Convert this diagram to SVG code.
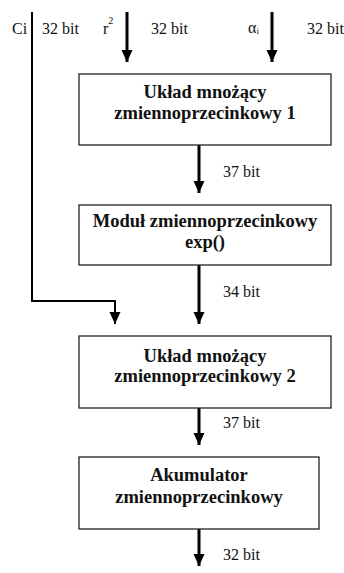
<svg xmlns="http://www.w3.org/2000/svg" width="344" height="573" viewBox="0 0 344 573">
<defs>
<style>
.box{fill:#fff;stroke:#222;stroke-width:1.3}
.t{font-weight:bold;fill:#111;text-anchor:middle}
.l{fill:#111}
.w{fill:none;stroke:#000;stroke-width:3}
.n{fill:none;stroke:#000;stroke-width:2}
</style>
<marker id="ah" markerUnits="userSpaceOnUse" markerWidth="14" markerHeight="14" viewBox="0 0 14 14" refX="12" refY="7" orient="auto">
<path d="M0,1.5 L12,7 L0,12.5 Z" fill="#000"/>
</marker>
</defs>
<rect width="344" height="573" fill="#fff"/>
<g id="connectors">
<path class="w" d="M127,12 V62" marker-end="url(#ah)"/>
<path class="w" d="M272,12 V62" marker-end="url(#ah)"/>
<path class="w" d="M199,145 V193" marker-end="url(#ah)"/>
<path class="w" d="M199,265 V324" marker-end="url(#ah)"/>
<path class="n" d="M32,12 V301 H115 V324" marker-end="url(#ah)"/>
<path class="w" d="M199,408 V445" marker-end="url(#ah)"/>
<path class="w" d="M199,529 V566" marker-end="url(#ah)"/>
</g>
<g id="labels">
<text class="l" style="font-family:'Liberation Serif',serif;font-size:16px" x="12" y="34">Ci</text>
<text class="l" style="font-family:'Liberation Serif',serif;font-size:16px" x="42" y="34">32 bit</text>
<text class="l" style="font-family:'Liberation Serif',serif;font-size:16px" x="103" y="34">r<tspan style="font-size:10px" dy="-10">2</tspan></text>
<text class="l" style="font-family:'Liberation Serif',serif;font-size:16px" x="151" y="34">32 bit</text>
<text class="l" style="font-family:'Liberation Serif',serif;font-size:16px" x="248" y="33">α<tspan style="font-size:9px" dy="1">i</tspan></text>
<text class="l" style="font-family:'Liberation Serif',serif;font-size:16px" x="307" y="34">32 bit</text>
<text class="l" style="font-family:'Liberation Serif',serif;font-size:16px" x="223" y="177">37 bit</text>
<text class="l" style="font-family:'Liberation Serif',serif;font-size:16px" x="223" y="297">34 bit</text>
<text class="l" style="font-family:'Liberation Serif',serif;font-size:16px" x="223" y="428">37 bit</text>
<text class="l" style="font-family:'Liberation Serif',serif;font-size:16px" x="223" y="560">32 bit</text>
</g>
<g id="mul1">
<rect class="box" x="79" y="74" width="252" height="71"/>
<text class="t" style="font-family:'Liberation Serif',serif;font-size:18.5px" x="205" y="98">Układ mnożący</text>
<text class="t" style="font-family:'Liberation Serif',serif;font-size:18.5px" x="205" y="118.5">zmiennoprzecinkowy 1</text>
</g>
<g id="exp">
<rect class="box" x="79" y="205" width="252" height="60"/>
<text class="t" style="font-family:'Liberation Serif',serif;font-size:18.5px" x="205" y="227">Moduł zmiennoprzecinkowy</text>
<text class="t" style="font-family:'Liberation Serif',serif;font-size:18.5px" x="205" y="247.5">exp()</text>
</g>
<g id="mul2">
<rect class="box" x="79" y="336" width="252" height="72"/>
<text class="t" style="font-family:'Liberation Serif',serif;font-size:18.5px" x="205" y="362">Układ mnożący</text>
<text class="t" style="font-family:'Liberation Serif',serif;font-size:18.5px" x="205" y="382">zmiennoprzecinkowy 2</text>
</g>
<g id="acc">
<rect class="box" x="79" y="457" width="240" height="72"/>
<text class="t" style="font-family:'Liberation Serif',serif;font-size:18.5px" x="199" y="481">Akumulator</text>
<text class="t" style="font-family:'Liberation Serif',serif;font-size:18.5px" x="199" y="503">zmiennoprzecinkowy</text>
</g>
</svg>
